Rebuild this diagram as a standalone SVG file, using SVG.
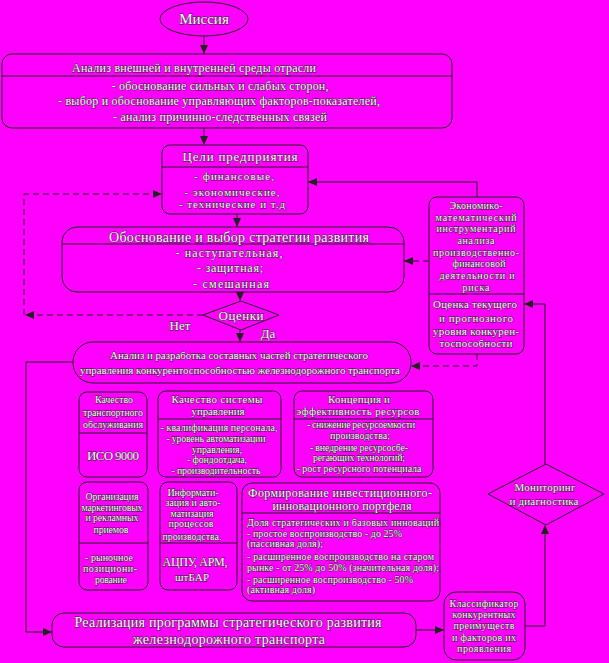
<svg xmlns="http://www.w3.org/2000/svg" width="609" height="663" viewBox="0 0 609 663">
<style>
.bg{fill:#ff00ff}
.box{fill:none;stroke:#222;stroke-width:1}
.ln{fill:none;stroke:#222;stroke-width:1}
.ds{fill:none;stroke:#222;stroke-width:1;stroke-dasharray:6,4}
text{font-family:"Liberation Serif","Times New Roman",serif;fill:#fff;stroke:#222;stroke-width:0.8;paint-order:stroke;text-anchor:middle}
.t14{font-size:14px}
.t13{font-size:13px}
.t12{font-size:12px}
.t11{font-size:11px}
.t10{font-size:10px}
.l{text-anchor:start}
</style>
<defs>
<marker id="ah" markerWidth="9" markerHeight="8" refX="8" refY="4" orient="auto" markerUnits="userSpaceOnUse">
<path d="M0,0 L9,4 L0,8 Z" fill="#222"/>
</marker>
</defs>
<rect class="bg" x="0" y="0" width="609" height="663"/>

<g id="connectors">
<path class="ln" d="M204,36 V53" marker-end="url(#ah)"/>
<path class="ln" d="M204,128 V144" marker-end="url(#ah)"/>
<path class="ln" d="M237,214 V226" marker-end="url(#ah)"/>
<path class="ln" d="M240,292 V300" marker-end="url(#ah)"/>
<path class="ln" d="M240,330 V341" marker-end="url(#ah)"/>
<path class="ds" d="M203,315 H26" marker-end="url(#ah)"/>
<path class="ds" d="M24,315 V194 H161" marker-end="url(#ah)"/>
<path class="ln" d="M477,197 V182 H309" marker-end="url(#ah)"/>
<path class="ds" d="M429,261 H405" marker-end="url(#ah)"/>
<path class="ds" d="M477,354 V366 H412" marker-end="url(#ah)"/>
<path class="ln" d="M545,464 V304 H525" marker-end="url(#ah)"/>
<path class="ln" d="M525,626 H545 V526" marker-end="url(#ah)"/>
<path class="ln" d="M416,630 H443" marker-end="url(#ah)"/>
<path class="ln" d="M73,362 H26 V632 H51" marker-end="url(#ah)"/>
<text class="t13" x="180" y="330">Нет</text>
<text class="t13" x="268" y="338">Да</text>
</g>

<g id="mission">
<ellipse class="box" cx="204" cy="19" rx="44" ry="17"/>
<text class="t14" x="204" y="24" style="font-size:15px">Миссия</text>
</g>

<g id="analysis-env">
<rect class="box" x="2" y="54" width="450" height="74" rx="10"/>
<line class="ln" x1="2" y1="76" x2="452" y2="76"/>
<text class="t12" x="194" y="72" textLength="244" lengthAdjust="spacing">Анализ внешней и внутренней среды отрасли</text>
<text class="t12" x="220" y="90" textLength="217" lengthAdjust="spacing">- обоснование сильных и слабых сторон,</text>
<text class="t12" x="219" y="105" textLength="322" lengthAdjust="spacing">- выбор и обоснование управляющих факторов-показателей,</text>
<text class="t12" x="220" y="121" textLength="214" lengthAdjust="spacing">- анализ причинно-следственных связей</text>
</g>

<g id="goals">
<rect class="box" x="162" y="145" width="146" height="69" rx="8"/>
<line class="ln" x1="162" y1="167" x2="308" y2="167"/>
<text class="t13" x="240" y="161" textLength="115" lengthAdjust="spacing">Цели предприятия</text>
<text class="t11" x="234" y="180" textLength="80" lengthAdjust="spacing">- финансовые,</text>
<text class="t11" x="232" y="196" textLength="95" lengthAdjust="spacing">- экономические,</text>
<text class="t11" x="232" y="208" textLength="106" lengthAdjust="spacing">- технические и т.д</text>
</g>

<g id="strategy">
<rect class="box" x="62" y="227" width="342" height="65" rx="15"/>
<line class="ln" x1="62" y1="244" x2="404" y2="244"/>
<text class="t14" x="239" y="242" textLength="260" lengthAdjust="spacing">Обоснование и выбор стратегии развития</text>
<text class="t12" x="229" y="257" textLength="107" lengthAdjust="spacing">- наступательная,</text>
<text class="t12" x="230" y="272" textLength="66" lengthAdjust="spacing">- защитная;</text>
<text class="t12" x="231" y="288" textLength="76" lengthAdjust="spacing">- смешанная</text>
</g>

<g id="evaluation">
<polygon class="box" points="241,301 279,315 241,330 203,315"/>
<text class="t13" x="241" y="320" textLength="45" lengthAdjust="spacing">Оценки</text>
</g>

<g id="econ-tools">
<rect class="box" x="429" y="197" width="95" height="157" rx="8"/>
<line class="ln" x1="429" y1="294" x2="524" y2="294"/>
<text class="t10" x="476" y="209" textLength="53" lengthAdjust="spacing">Экономико-</text>
<text class="t10" x="476" y="221" textLength="81" lengthAdjust="spacing">математический</text>
<text class="t10" x="476" y="232" textLength="79" lengthAdjust="spacing">инструментарий</text>
<text class="t10" x="476" y="244" textLength="37" lengthAdjust="spacing">анализа</text>
<text class="t10" x="476" y="256" textLength="86" lengthAdjust="spacing">производственно-</text>
<text class="t10" x="479" y="267" textLength="53" lengthAdjust="spacing">финансовой</text>
<text class="t10" x="477" y="279" textLength="75" lengthAdjust="spacing">деятельности и</text>
<text class="t10" x="476" y="291" textLength="27" lengthAdjust="spacing">риска</text>
<text class="t11" x="475" y="308" textLength="84" lengthAdjust="spacing">Оценка текущего</text>
<text class="t11" x="476" y="322" textLength="74" lengthAdjust="spacing">и прогнозного</text>
<text class="t11" x="476" y="335" textLength="86" lengthAdjust="spacing">уровня конкурен-</text>
<text class="t11" x="476" y="347" textLength="73" lengthAdjust="spacing">тоспособности</text>
</g>

<g id="analysis-parts">
<rect class="box" x="73" y="342" width="338" height="41" rx="20"/>
<text class="t11" x="239" y="359" textLength="258" lengthAdjust="spacing">Анализ и разработка составных частей стратегического</text>
<text class="t11" x="240" y="374" textLength="320" lengthAdjust="spacing">управления конкурентоспособностью железнодорожного транспорта</text>
</g>

<g id="transport-quality">
<rect class="box" x="79" y="392" width="68" height="85" rx="8"/>
<line class="ln" x1="79" y1="433" x2="147" y2="433"/>
<text class="t10" x="114" y="403" textLength="38" lengthAdjust="spacing">Качество</text>
<text class="t10" x="113" y="416" textLength="60" lengthAdjust="spacing">транспортного</text>
<text class="t10" x="113" y="428" textLength="60" lengthAdjust="spacing">обслуживания</text>
<text class="t13" x="113" y="460" textLength="52" lengthAdjust="spacing">ИСО 9000</text>
</g>

<g id="management-quality">
<rect class="box" x="158" y="391" width="123" height="86" rx="8"/>
<line class="ln" x1="158" y1="419" x2="281" y2="419"/>
<text class="t11" x="217" y="403" textLength="91" lengthAdjust="spacing">Качество системы</text>
<text class="t11" x="218" y="415" textLength="53" lengthAdjust="spacing">управления</text>
<text class="t10" x="219" y="431" textLength="117" lengthAdjust="spacing">- квалификация персонала,</text>
<text class="t10" x="216" y="442" textLength="99" lengthAdjust="spacing">- уровень автоматизации</text>
<text class="t10" x="217" y="453" textLength="50" lengthAdjust="spacing">управления,</text>
<text class="t10" x="217" y="463" textLength="60" lengthAdjust="spacing">- фондоотдача,</text>
<text class="t10" x="216" y="474" textLength="89" lengthAdjust="spacing">- производительность</text>
</g>

<g id="resources">
<rect class="box" x="294" y="391" width="139" height="86" rx="8"/>
<line class="ln" x1="294" y1="419" x2="433" y2="419"/>
<text class="t11" x="359" y="403" textLength="62" lengthAdjust="spacing">Концепция и</text>
<text class="t11" x="358" y="415" textLength="123" lengthAdjust="spacing">эффективность ресурсов</text>
<text class="t10" x="361" y="428" textLength="108" lengthAdjust="spacing">- снижение ресурсоемкости</text>
<text class="t10" x="360" y="439" textLength="60" lengthAdjust="spacing">производства;</text>
<text class="t10" x="359" y="451" textLength="98" lengthAdjust="spacing">- внедрение ресурсосбе-</text>
<text class="t10" x="359" y="461" textLength="92" lengthAdjust="spacing">регающих технологий;</text>
<text class="t10" x="359" y="472" textLength="125" lengthAdjust="spacing">- рост ресурсного потенциала</text>
</g>

<g id="marketing">
<rect class="box" x="79" y="482" width="69" height="108" rx="8"/>
<line class="ln" x1="79" y1="543" x2="148" y2="543"/>
<text class="t10" x="112" y="500" textLength="53" lengthAdjust="spacing">Организация</text>
<text class="t10" x="112" y="511" textLength="61" lengthAdjust="spacing">маркетинговых</text>
<text class="t10" x="112" y="521" textLength="53" lengthAdjust="spacing">и рекламных</text>
<text class="t10" x="111" y="533" textLength="35" lengthAdjust="spacing">приемов</text>
<text class="t10" x="109" y="561" textLength="48" lengthAdjust="spacing">- рыночное</text>
<text class="t10" x="110" y="572" textLength="54" lengthAdjust="spacing">позициони-</text>
<text class="t10" x="111" y="583" textLength="32" lengthAdjust="spacing">рование</text>
</g>

<g id="informatization">
<rect class="box" x="160" y="482" width="77" height="108" rx="8"/>
<line class="ln" x1="160" y1="543" x2="237" y2="543"/>
<text class="t10" x="193" y="496" textLength="51" lengthAdjust="spacing">Информати-</text>
<text class="t10" x="193" y="506" textLength="55" lengthAdjust="spacing">зация и авто-</text>
<text class="t10" x="192" y="517" textLength="43" lengthAdjust="spacing">матизация</text>
<text class="t10" x="191" y="527" textLength="45" lengthAdjust="spacing">процессов</text>
<text class="t10" x="192" y="540" textLength="59" lengthAdjust="spacing">производства.</text>
<text class="t12" x="195" y="566" textLength="65" lengthAdjust="spacing">АЦПУ, АРМ,</text>
<text class="t11" x="192" y="581" textLength="34" lengthAdjust="spacing">штБАР</text>
</g>

<g id="portfolio">
<rect class="box" x="242" y="483" width="198" height="118" rx="10"/>
<line class="ln" x1="242" y1="513" x2="440" y2="513"/>
<text class="t12" x="340" y="497" textLength="184" lengthAdjust="spacing">Формирование инвестиционного-</text>
<text class="t12" x="342" y="510" textLength="139" lengthAdjust="spacing">инновационного портфеля</text>
<text class="t10 l" x="247" y="526" textLength="192" lengthAdjust="spacing">Доля стратегических и базовых инноваций</text>
<text class="t10 l" x="247" y="537" textLength="155" lengthAdjust="spacing">- простое воспроизводство - до 25%</text>
<text class="t10 l" x="247" y="547" textLength="76" lengthAdjust="spacing">(пассивная доля);</text>
<text class="t10 l" x="247" y="560" textLength="187" lengthAdjust="spacing">- расширенное воспроизводство на старом</text>
<text class="t10 l" x="247" y="571" textLength="192" lengthAdjust="spacing">рынке - от 25% до 50% (значительная доля);</text>
<text class="t10 l" x="247" y="583" textLength="166" lengthAdjust="spacing">- расширенное воспроизводство - 50%</text>
<text class="t10 l" x="247" y="593" textLength="68" lengthAdjust="spacing">(активная доля)</text>
</g>

<g id="monitoring">
<polygon class="box" points="546,464 604,494 546,525 488,494"/>
<text class="t11" x="545" y="491" textLength="61" lengthAdjust="spacing">Мониторинг</text>
<text class="t11" x="544" y="505" textLength="69" lengthAdjust="spacing">и диагностика</text>
</g>

<g id="classifier">
<rect class="box" x="444" y="592" width="81" height="68" rx="12"/>
<text class="t10" x="484" y="607" textLength="69" lengthAdjust="spacing">Классификатор</text>
<text class="t10" x="484" y="618" textLength="63" lengthAdjust="spacing">конкурентных</text>
<text class="t10" x="484" y="629" textLength="61" lengthAdjust="spacing">преимуществ</text>
<text class="t10" x="484" y="641" textLength="64" lengthAdjust="spacing">и факторов их</text>
<text class="t10" x="484" y="652" textLength="54" lengthAdjust="spacing">проявления</text>
</g>

<g id="implementation">
<rect class="box" x="52" y="613" width="364" height="34" rx="12"/>
<text class="t14" x="228" y="627" textLength="307" lengthAdjust="spacing">Реализация программы стратегического развития</text>
<text class="t14" x="229" y="644" textLength="192" lengthAdjust="spacing">железнодорожного транспорта</text>
</g>
</svg>
